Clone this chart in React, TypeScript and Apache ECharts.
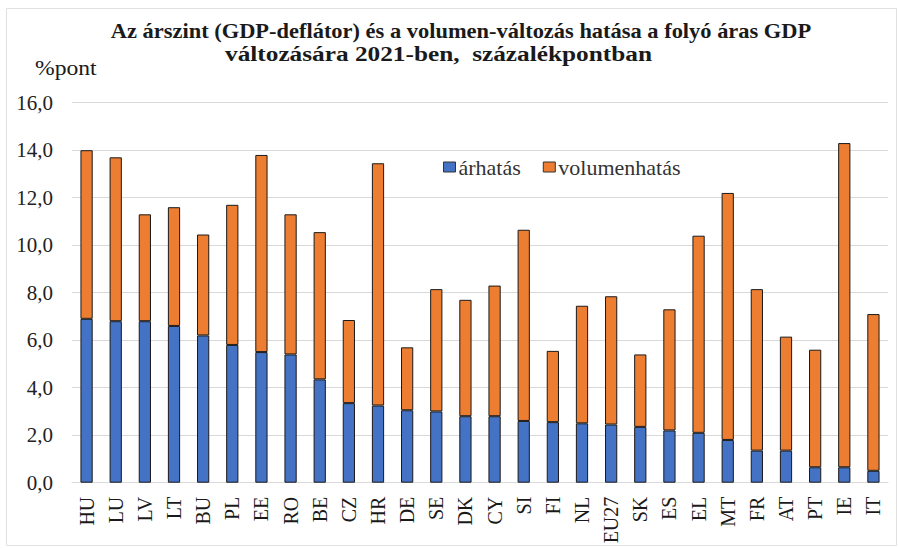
import React, { useEffect, useRef } from "react";
import * as echarts from "echarts";

const categories = ["HU","LU","LV","LT","BU","PL","EE","RO","BE","CZ","HR","DE","SE","DK","CY","SI","FI","NL","EU27","SK","ES","EL","MT","FR","AT","PT","IE","IT"];
const arhatas = [6.9,6.8,6.8,6.6,6.2,5.8,5.5,5.4,4.35,3.35,3.25,3.05,3.0,2.8,2.8,2.6,2.55,2.5,2.45,2.35,2.2,2.1,1.8,1.35,1.35,0.65,0.65,0.5];
const volumenhatas = [7.1,6.9,4.5,5.0,4.25,5.9,8.3,5.9,6.2,3.5,10.2,2.65,5.15,4.9,5.5,8.05,3.0,4.95,5.4,3.05,5.1,8.3,10.4,6.8,4.8,4.95,13.65,6.6];
const seriesNames = ["árhatás", "volumenhatás"];
const titleLine1 = "Az árszint (GDP-deflátor) és a volumen-változás hatása a folyó áras GDP";
const titleLine2 = "változására 2021-ben,  százalékpontban";
const unitLabel = "%pont";

const SERIF = "'Liberation Serif', 'DejaVu Serif', serif";

export default function App() {
  const ref = useRef<HTMLDivElement>(null);
  useEffect(() => {
    if (!ref.current) return;
    const chart = echarts.init(ref.current, null, { renderer: "svg" });
    chart.setOption({
      animation: false,
      backgroundColor: "#ffffff",
      textStyle: { fontFamily: SERIF },
      graphic: [
        { type: "rect", shape: { x: 6.5, y: 8.5, width: 890, height: 537 }, style: { fill: "none", stroke: "#e0e0e0", lineWidth: 1 }, silent: true },
        {
          type: "text", x: 461, y: 42, scaleX: 1.02,
          style: { text: titleLine1, x: 0, y: 0, align: "center", verticalAlign: "bottom", font: `bold 22px ${SERIF}`, fill: "#1a1a1a" },
        },
        {
          type: "text", x: 438.5, y: 65, scaleX: 1.15,
          style: { text: titleLine2, x: 0, y: 0, align: "center", verticalAlign: "bottom", font: `bold 22px ${SERIF}`, fill: "#1a1a1a" },
        },
        {
          type: "text", x: 35, y: 79, scaleX: 1.18,
          style: { text: unitLabel, x: 0, y: 0, align: "left", verticalAlign: "bottom", font: `20px ${SERIF}`, fill: "#1a1a1a" },
        },
      ],
      legend: {
        data: seriesNames,
        left: 438,
        top: 151,
        icon: "rect",
        itemWidth: 12,
        itemHeight: 10,
        itemGap: 22,
        itemStyle: { borderColor: "#333", borderWidth: 1 },
        textStyle: { fontFamily: SERIF, fontSize: 22, color: "#333", padding: [0, 0, 0, -2] },
      },
      grid: { left: 72, right: 11, top: 102.7, bottom: 65.3, containLabel: false },
      xAxis: {
        type: "category",
        data: categories,
        axisLine: { show: true, lineStyle: { color: "#d9d9d9" } },
        axisTick: { show: false },
        axisLabel: { rotate: 90, fontFamily: SERIF, fontSize: 20, color: "#1a1a1a", margin: 14, interval: 0 },
      },
      yAxis: {
        type: "value",
        min: 0,
        max: 16,
        interval: 2,
        axisLine: { show: false },
        axisTick: { show: false },
        splitLine: { lineStyle: { color: "#d9d9d9", width: 1 } },
        axisLabel: {
          fontFamily: SERIF,
          fontSize: 21,
          color: "#222",
          margin: 19,
          formatter: (v: number) => v.toFixed(1).replace(".", ","),
        },
      },
      series: [
        {
          name: seriesNames[0],
          type: "bar",
          stack: "total",
          data: arhatas,
          barWidth: "42%",
          itemStyle: { color: "#4472C4", borderColor: "#1a1a1a", borderWidth: 1 },
        },
        {
          name: seriesNames[1],
          type: "bar",
          stack: "total",
          data: volumenhatas,
          barWidth: "42%",
          itemStyle: { color: "#ED7D31", borderColor: "#1a1a1a", borderWidth: 1 },
        },
      ],
    });
    return () => chart.dispose();
  }, []);
  return <div ref={ref} style={{ position: "absolute", left: 0, top: 0, width: 899, height: 548 }} />;
}
